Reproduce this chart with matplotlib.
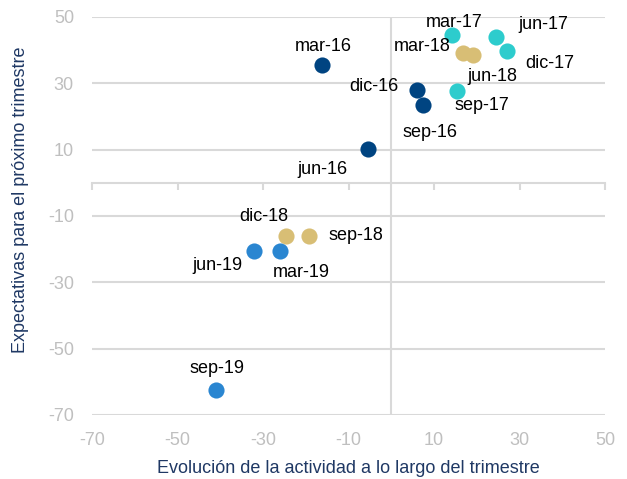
import matplotlib
matplotlib.use("Agg")
import matplotlib.pyplot as plt

plt.rcParams['font.family'] = ['Liberation Sans', 'DejaVu Sans']
plt.rcParams['axes.unicode_minus'] = False

# trimestres, agrupados por año
labels_2016 = ['mar-16', 'jun-16', 'sep-16', 'dic-16']
x_2016 = [-16.2, -5.4, 7.4, 6.0]
y_2016 = [35.5, 10.1, 23.4, 27.9]

labels_2017 = ['mar-17', 'jun-17', 'sep-17', 'dic-17']
x_2017 = [14.2, 24.5, 15.4, 27.1]
y_2017 = [44.6, 44.0, 27.6, 39.7]

labels_2018 = ['mar-18', 'jun-18', 'sep-18', 'dic-18']
x_2018 = [16.8, 19.1, -19.2, -24.6]
y_2018 = [39.1, 38.5, -15.9, -15.9]

labels_2019 = ['mar-19', 'jun-19', 'sep-19']
x_2019 = [-26.0, -32.1, -41.0]
y_2019 = [-20.7, -20.7, -62.5]

ticks = [-70, -50, -30, -10, 10, 30, 50]

# desplazamiento de las etiquetas (pixeles)
offsets = {
    'mar-16': (1, 19), 'jun-16': (-46, -20), 'sep-16': (7, -27), 'dic-16': (-43, 4),
    'mar-17': (2, 12), 'jun-17': (47, 12), 'sep-17': (25, -14), 'dic-17': (43, -12),
    'mar-18': (-41, 7), 'jun-18': (19, -21), 'sep-18': (47, 0), 'dic-18': (-22, 19),
    'mar-19': (21, -21), 'jun-19': (-37, -14), 'sep-19': (1, 22),
}

series = [
    (labels_2016, x_2016, y_2016, '#004481'),
    (labels_2017, x_2017, y_2017, '#2dcccd'),
    (labels_2018, x_2018, y_2018, '#d8be75'),
    (labels_2019, x_2019, y_2019, '#2a86d1'),
]

grid_c = '#d9d9d9'
tick_c = '#bfbfbf'
navy = '#1f3864'
fs = 13

fig = plt.figure(figsize=(6.27, 4.79), dpi=100)
ax = fig.add_axes([92 / 627, 1 - 415 / 479, 513 / 627, 398 / 479])

for labels, xs, ys, color in series:
    ax.scatter(xs, ys, s=135, color=color, linewidths=0, zorder=3)
    for lab, x, y in zip(labels, xs, ys):
        dx, dy = offsets[lab]
        ax.annotate(lab, (x, y), xytext=(dx, dy), textcoords='offset pixels',
                    ha='center', va='center', fontsize=fs, color='#000000', zorder=4)

ax.set_xlim(-70, 50)
ax.set_ylim(-70, 50)
ax.set_xticks(ticks)
ax.set_yticks(ticks)

for s in ax.spines.values():
    s.set_visible(False)
ax.grid(axis='y', color=grid_c, linewidth=1.5, zorder=0)
ax.axvline(0, color=grid_c, linewidth=1.5, zorder=1)
ax.tick_params(axis='both', length=0, labelsize=fs, labelcolor=tick_c)
ax.tick_params(axis='x', pad=12)
ax.tick_params(axis='y', pad=13)

# eje horizontal en y=0 con marcas
sec = ax.secondary_xaxis(0, transform=ax.transData)
sec.set_xticks(ticks)
sec.set_xticklabels([])
sec.spines['bottom'].set_color(grid_c)
sec.spines['bottom'].set_linewidth(1.5)
sec.tick_params(axis='x', direction='out', length=5, width=1.5, color=grid_c)

ax.set_xlabel('Evolución de la actividad a lo largo del trimestre',
              fontsize=fs, color=navy, labelpad=8)
ax.set_ylabel('Expectativas para el próximo trimestre',
              fontsize=fs, color=navy)
ax.yaxis.set_label_coords(-0.122, 0.54)

fig.savefig('out.png', dpi=100)
